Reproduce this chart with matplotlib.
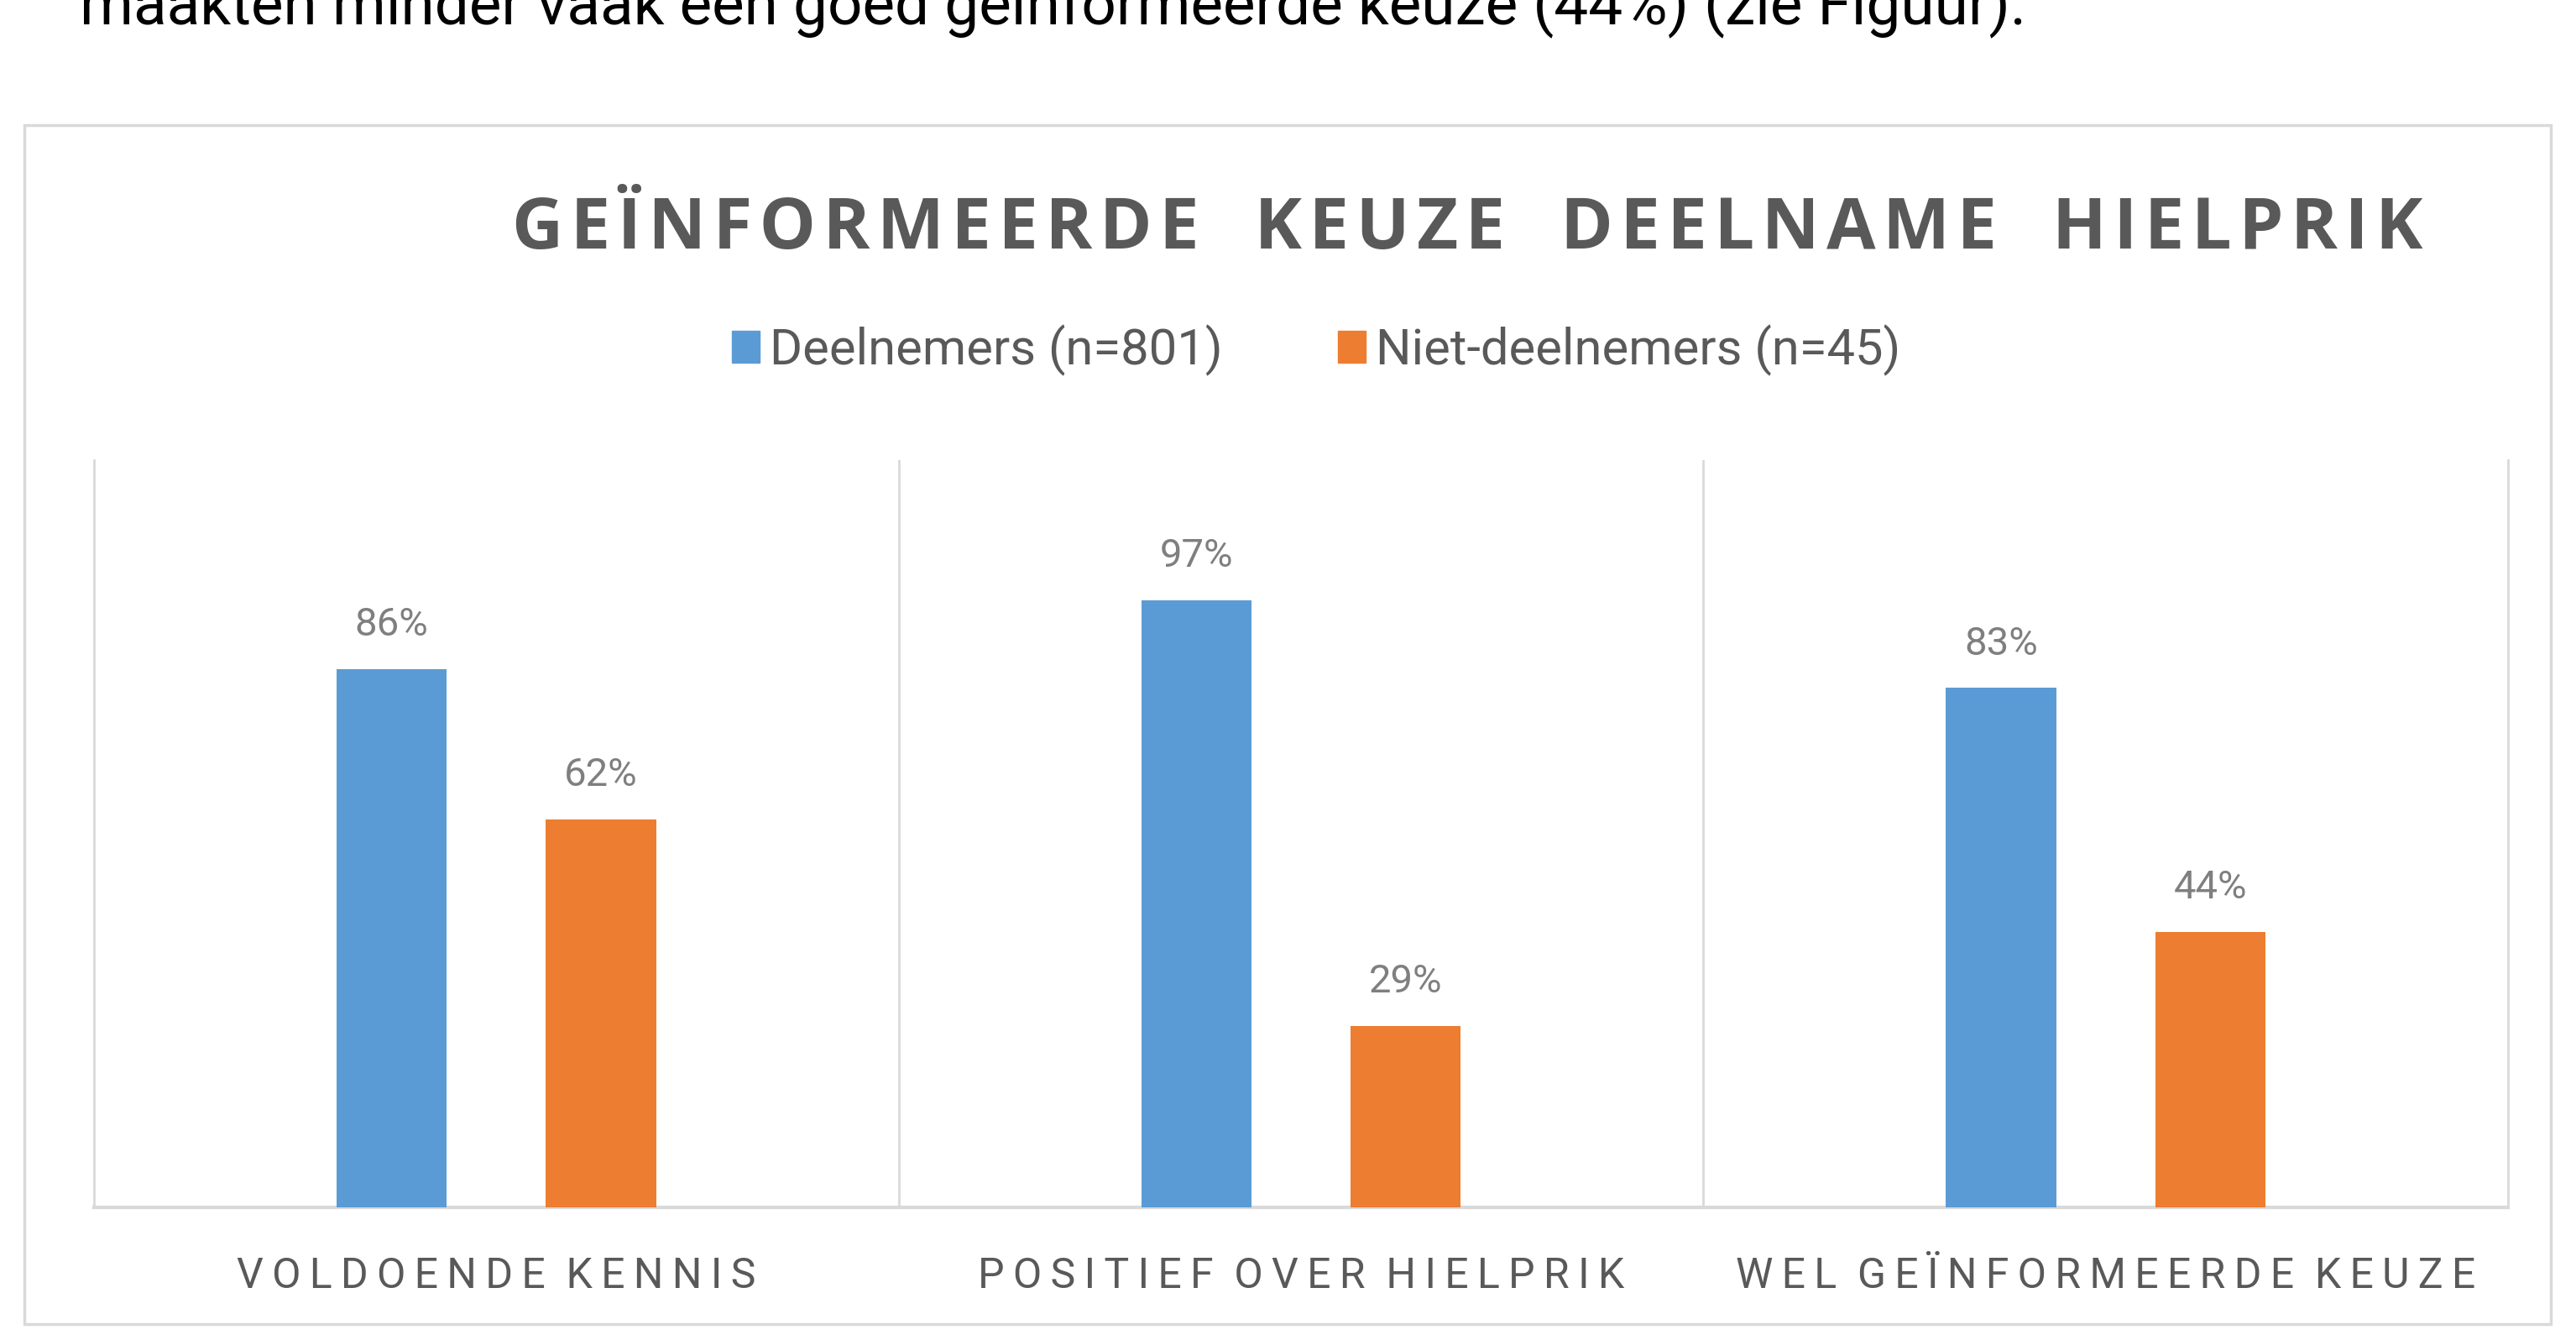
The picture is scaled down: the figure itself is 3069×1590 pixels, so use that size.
import matplotlib.pyplot as plt
from matplotlib.patches import Rectangle, Patch

categories = ['VOLDOENDE KENNIS', 'POSITIEF OVER HIELPRIK', 'WEL GEÏNFORMEERDE KEUZE']
deelnemers = [86, 97, 83]
niet_deelnemers = [62, 29, 44]
series_names = ['Deelnemers (n=801)', 'Niet-deelnemers (n=45)']
title = 'GEÏNFORMEERDE KEUZE DEELNAME HIELPRIK'
top_line = 'maakten minder vaak een goed geïnformeerde keuze (44%) (zie Figuur).'

blue = '#5B9BD5'
orange = '#ED7D31'
grid_col = '#D9D9D9'
dark = '#595959'
label_col = '#7F7F7F'
narrow = ['Roboto', 'DejaVu Sans']


def spaced(s, gap='\u2009', word_gap='  '):
    # rough letter spacing, like the office chart styles
    return word_gap.join(gap.join(w) for w in s.split(' '))


fig = plt.figure(figsize=(30.69, 15.9), dpi=100)
fig.patch.set_facecolor('white')

# text line from the page above the chart, cut off at the top
fig.text(0.031, 1 - 28 / 1590, top_line, fontsize=52.5, family=narrow,
         color='black', va='baseline', ha='left')

# outer chart frame
fig.patches.append(Rectangle((0.0095, 0.0082), 0.9808, 0.898, transform=fig.transFigure,
                             fill=False, edgecolor=grid_col, linewidth=2.5))

fig.text(0.5695, 1 - 274 / 1590, spaced(title, '\u200a', '   '), fontsize=61, fontweight='bold',
         family=['Open Sans', 'DejaVu Sans'], color=dark, ha='center', va='center')

ax = fig.add_axes([0.0365, 0.0956, 0.9371, 0.5597])
x = range(len(categories))
w = 0.137
off = 0.13
b1 = ax.bar([i - off for i in x], deelnemers, w, color=blue, zorder=3)
b2 = ax.bar([i + off for i in x], niet_deelnemers, w, color=orange, zorder=3)

for bars, vals in [(b1, deelnemers), (b2, niet_deelnemers)]:
    for bar, v in zip(bars, vals):
        ax.annotate(f'{v}%', (bar.get_x() + bar.get_width() / 2, v), xytext=(0, 38),
                    textcoords='offset points', ha='center', va='center',
                    fontsize=34, family=narrow, color=label_col)

ax.set_xlim(-0.5, 2.5)
ax.set_ylim(0, 119.4)
for xv in [0.5, 1.5]:
    ax.axvline(xv, color=grid_col, linewidth=2, zorder=1)
for side in ['left', 'right', 'bottom']:
    ax.spines[side].set_color(grid_col)
    ax.spines[side].set_linewidth(2)
ax.spines['bottom'].set_linewidth(3)
ax.spines['top'].set_visible(False)
ax.set_yticks([])
ax.set_xticks(list(x))
ax.set_xticklabels([spaced(c, '\u2009', '  ') for c in categories], fontsize=36,
                   family=narrow, color=dark)
ax.tick_params(axis='x', length=0, pad=42)

handles = [Patch(color=blue), Patch(color=orange)]
fig.legend(handles, series_names, loc='center', bbox_to_anchor=(0.511, 1 - 417 / 1590),
           ncol=2, frameon=False, prop={'family': narrow, 'size': 43},
           labelcolor=dark, handlelength=0.55, handleheight=0.6, handletextpad=0.2,
           columnspacing=2.3)

plt.savefig('out.png', facecolor=fig.get_facecolor())
